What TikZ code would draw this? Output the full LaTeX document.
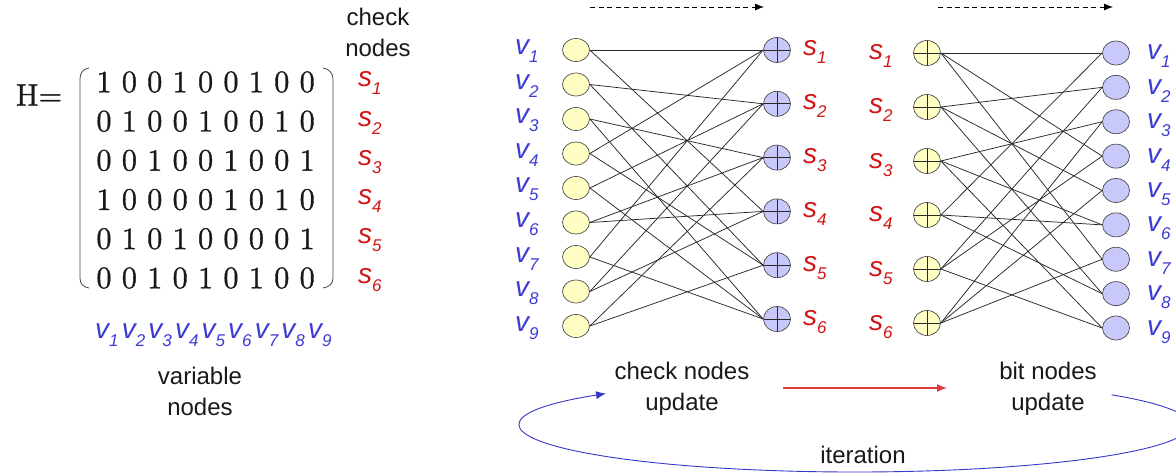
\documentclass[tikz,border=0pt]{standalone}
\usepackage{fontspec}
\newfontfamily\arialf{Liberation Sans}
\newfontfamily\digf[FakeBold=1.2]{lmroman12-regular.otf}
\usetikzlibrary{shapes.geometric,arrows.meta}
\definecolor{vblue}{RGB}{60,60,210}
\definecolor{sred}{RGB}{210,20,20}
\definecolor{nyel}{RGB}{255,255,195}
\definecolor{nlav}{RGB}{200,200,250}
\definecolor{edgec}{RGB}{40,40,40}
\definecolor{txt}{RGB}{25,25,25}
\definecolor{redarr}{RGB}{225,60,60}
\definecolor{bluearr}{RGB}{55,55,200}
\newcommand\lbl[2]{#1\raisebox{-8pt}{\fontsize{17}{17}\selectfont #2}}
\begin{document}
\begin{tikzpicture}[x=1pt,y=-1pt,
  vnode/.style={ellipse,draw=gray!60!black,fill=nyel,minimum width=27pt,minimum height=23pt,inner sep=0pt,line width=0.7pt},
  vnodeb/.style={ellipse,draw=gray!60!black,fill=nlav,minimum width=27pt,minimum height=24pt,inner sep=0pt,line width=0.7pt},
  plusnode/.style={ellipse,draw=gray!60!black,minimum width=27pt,minimum height=25pt,inner sep=0pt,line width=0.7pt,
    path picture={\draw[line width=0.7pt,edgec] (path picture bounding box.north) -- (path picture bounding box.south)
      (path picture bounding box.west) -- (path picture bounding box.east);}},
  cnodeb/.style={plusnode,fill=nlav},
  cnodey/.style={plusnode,fill=nyel},
  edge/.style={draw=edgec,line width=0.75pt},
  vlab/.style={inner sep=0pt,anchor=base west,text=vblue,font=\arialf\itshape\fontsize{28}{28}\selectfont},
  slab/.style={inner sep=0pt,anchor=base west,text=sred,font=\arialf\itshape\fontsize{28}{28}\selectfont},
  plain/.style={inner sep=0pt,align=center,text=txt,font=\arialf\fontsize{24}{31}\selectfont},
  digit/.style={inner sep=0pt,text=txt,font=\digf\fontsize{31}{31}\selectfont},
  bracket/.style={draw=txt!80,line width=0.8pt},
  dasharr/.style={draw=black,dashed,dash pattern=on 5pt off 3.5pt,line width=0.8pt,-{Latex[length=9pt,width=7pt]}},
]
\useasboundingbox (0,0) rectangle (1176,476);

% ---------- matrix ----------
\node[digit,font=\digf\fontsize{31}{31}\selectfont] (H) at (39,95) {H=};
\draw[bracket] (89,68) .. controls (83,69) and (80,73) .. (80,79) -- (80,278) .. controls (80,284) and (83,287) .. (89,288);
\draw[bracket] (323,68) .. controls (329,69) and (333,73) .. (333,79) -- (333,278) .. controls (333,284) and (329,287) .. (323,288);
\foreach \r/\bits in {1/{1,0,0,1,0,0,1,0,0},2/{0,1,0,0,1,0,0,1,0},3/{0,0,1,0,0,1,0,0,1},4/{1,0,0,0,0,1,0,1,0},5/{0,1,0,1,0,0,0,0,1},6/{0,0,1,0,1,0,1,0,0}}{
  \foreach \b [count=\c] in \bits {
    \node[digit] (m\r\c) at ({104+25.4*(\c-1)},{82+39.2*(\r-1)}) {\b};
  }
  \node[slab] (ms\r) at (358,{87+39.2*(\r-1)}) {\lbl{s}{\r}};
}
\node[plain] (chk) at (378,32) {check\\nodes};
\foreach \i in {1,...,9}{
  \node[vlab] (mv\i) at ({95+26.6*(\i-1)},338) {\lbl{v}{\i}};
}
\node[plain] (varn) at (200,391) {variable\\nodes};

% ---------- left graph ----------
\foreach \i in {1,...,9}{
  \node[vnode] (lv\i) at (576,{50+34.5*(\i-1)}) {};
  \node[vlab] (llv\i) at (515,{55+34.5*(\i-1)}) {\lbl{v}{\i}};
}
\foreach \j in {1,...,6}{
  \node[cnodeb] (ls\j) at (777,{50+53.8*(\j-1)}) {};
  \node[slab] (lls\j) at (803,{56+53.8*(\j-1)}) {\lbl{s}{\j}};
}
\foreach \j/\a/\b/\c in {1/1/4/7,2/2/5/8,3/3/6/9,4/1/6/8,5/2/4/9,6/3/5/7}{
  \draw[edge] (lv\a.east) -- (ls\j.west);
  \draw[edge] (lv\b.east) -- (ls\j.west);
  \draw[edge] (lv\c.east) -- (ls\j.west);
}

% ---------- right graph ----------
\foreach \j in {1,...,6}{
  \node[cnodey] (rs\j) at (927,{53+54*(\j-1)}) {};
  \node[slab] (rls\j) at (869,{60+54*(\j-1)}) {\lbl{s}{\j}};
}
\foreach \i in {1,...,9}{
  \node[vnodeb] (rv\i) at (1116,{53+34.375*(\i-1)}) {};
  \node[vlab] (rlv\i) at (1147,{60+34.375*(\i-1)}) {\lbl{v}{\i}};
}
\foreach \j/\a/\b/\c in {1/1/4/7,2/2/5/8,3/3/6/9,4/1/6/8,5/2/4/9,6/3/5/7}{
  \draw[edge] (rs\j.east) -- (rv\a.west);
  \draw[edge] (rs\j.east) -- (rv\b.west);
  \draw[edge] (rs\j.east) -- (rv\c.west);
}

% ---------- top dashed arrows ----------
\coordinate (da1) at (590,7);
\coordinate (da2) at (764,7);
\coordinate (db1) at (938,7);
\coordinate (db2) at (1113,7);
\draw[dasharr] (da1) -- (da2);
\draw[dasharr] (db1) -- (db2);

% ---------- bottom ----------
\node[plain] (cnu) at (682,389) {check nodes\\update};
\node[plain] (bnu) at (1048,389) {bit nodes\\update};
\node[plain] (iter) at (863,455) {iteration};
\coordinate (ra1) at (783,388);
\coordinate (ra2) at (947,388);
\draw[draw=redarr,line width=1.3pt,-{Latex[length=10pt,width=8pt]}] (ra1) -- (ra2);
\coordinate (itstart) at (1111.6,394.8);
\draw[draw=bluearr,line width=0.9pt,-{Latex[length=10pt,width=8pt]}] (itstart) arc[start angle=40,end angle=-222,x radius=335pt,y radius=47pt];
\end{tikzpicture}
\end{document}
